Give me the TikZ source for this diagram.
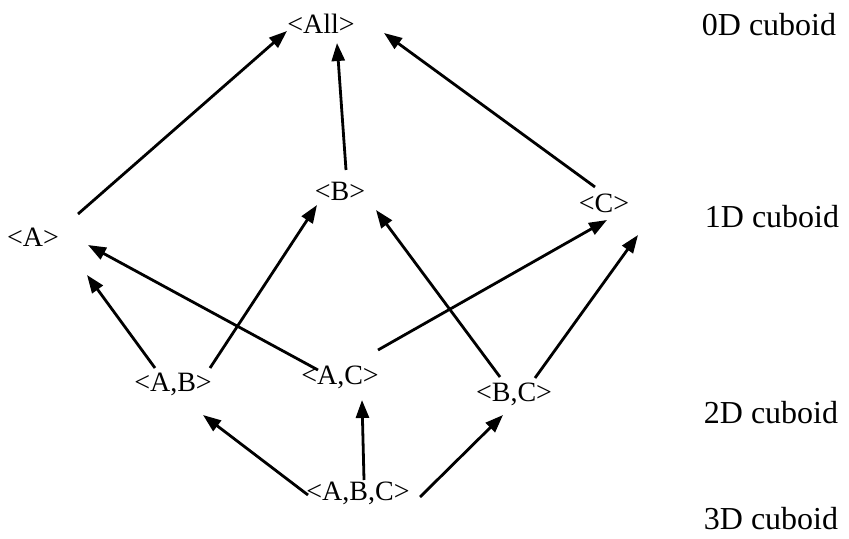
\documentclass[tikz,border=0pt]{standalone}
\usepackage{fontspec}
\setmainfont{Liberation Serif}
\usetikzlibrary{arrows.meta,calc}
\begin{document}
\begin{tikzpicture}[x=0.5pt,y=-0.5pt,
  cell/.style={font=\fontsize{14}{16}\selectfont, inner sep=0pt},
  level/.style={font=\fontsize{16}{18}\selectfont, inner sep=0pt},
  arr/.style={-{Triangle[length=9pt,width=6.5pt]}, line width=1.4pt}]
  \useasboundingbox (0,0) rectangle (849,539);

  % Cuboids
  \node[cell] (all) at (321,24) {<All>};
  \node[cell] (a) at (33,237) {<A>};
  \node[cell] (b) at (340,191) {<B>};
  \node[cell] (c) at (604,203) {<C>};
  \node[cell] (ab) at (173,384) {<A,B>};
  \node[cell] (ac) at (340,377) {<A,C>};
  \node[cell] (bc) at (514,394) {<B,C>};
  \node[cell] (abc) at (358,493) {<A,B,C>};

  % Levels
  \node[level] (l0) at (769,25) {0D cuboid};
  \node[level] (l1) at (772,217) {1D cuboid};
  \node[level] (l2) at (771,413) {2D cuboid};
  \node[level] (l3) at (771,519) {3D cuboid};

  % Arrows
  \draw[arr] ($(a)+(45,-23)$) -- ($(all)+(-34,7)$);
  \draw[arr] ($(b)+(6,-21)$) -- ($(all)+(16,19)$);
  \draw[arr] ($(c)+(-9,-16)$) -- ($(all)+(63,9)$);
  \draw[arr] ($(ab)+(-18,-16)$) -- ($(a)+(54,38)$);
  \draw[arr] ($(ac)+(-22,-7)$) -- ($(a)+(55,8)$);
  \draw[arr] ($(ab)+(37,-16)$) -- ($(b)+(-23,14)$);
  \draw[arr] ($(bc)+(-14,-17)$) -- ($(b)+(36,19)$);
  \draw[arr] ($(ac)+(38,-27)$) -- ($(c)+(3,17)$);
  \draw[arr] ($(bc)+(21,-16)$) -- ($(c)+(34,32)$);
  \draw[arr] ($(abc)+(-50,2)$) -- ($(ab)+(30,31)$);
  \draw[arr] ($(abc)+(6,-13)$) -- ($(ac)+(22,23)$);
  \draw[arr] ($(abc)+(62,4)$) -- ($(bc)+(-11,21)$);
\end{tikzpicture}
\end{document}
